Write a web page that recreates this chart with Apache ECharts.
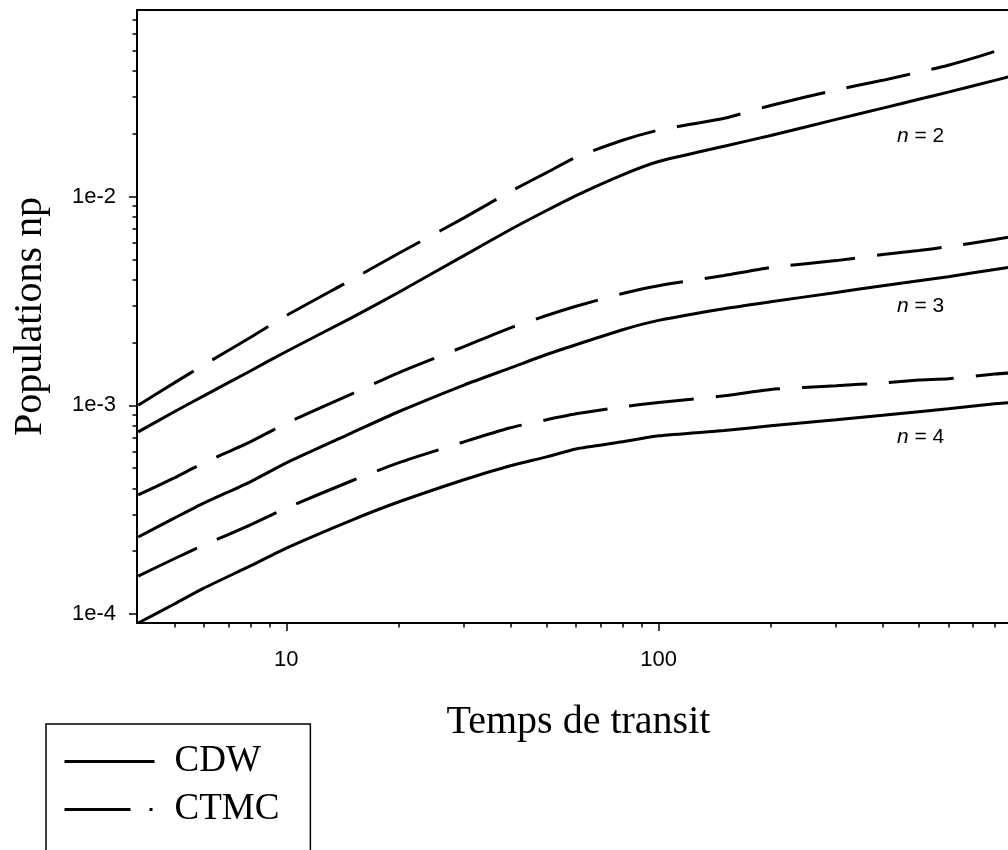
<!DOCTYPE html>
<html>
<head>
<meta charset="utf-8">
<script src="https://cdn.jsdelivr.net/npm/echarts@6.0.0/dist/echarts.min.js"></script>
<style>
  html, body { margin: 0; padding: 0; background: #fff; }
  #chart { width: 1008px; height: 850px; }
</style>
</head>
<body>
<div id="chart"></div>
<script>
// temps de transit
const times = [4, 5, 6, 8, 10, 15, 20, 30, 40, 50, 60, 80, 100, 150, 200, 300, 400, 500, 600, 800, 1000];

// n = 2
const ctmc2 = [1.0e-3, 1.28e-3, 1.56e-3, 2.11e-3, 2.69e-3, 4.0e-3, 5.33e-3, 7.9e-3, 1.057e-2, 1.30e-2, 1.54e-2, 1.86e-2, 2.08e-2, 2.37e-2, 2.73e-2, 3.24e-2, 3.60e-2, 3.94e-2, 4.25e-2, 4.95e-2, 5.80e-2];
const cdw2 = [7.46e-4, 9.31e-4, 1.11e-3, 1.46e-3, 1.81e-3, 2.63e-3, 3.47e-3, 5.21e-3, 6.95e-3, 8.57e-3, 1.01e-2, 1.27e-2, 1.47e-2, 1.74e-2, 1.96e-2, 2.34e-2, 2.65e-2, 2.92e-2, 3.16e-2, 3.60e-2, 3.98e-2];
// n = 3
const ctmc3 = [3.72e-4, 4.49e-4, 5.30e-4, 6.68e-4, 8.2e-4, 1.135e-3, 1.43e-3, 1.91e-3, 2.35e-3, 2.69e-3, 2.98e-3, 3.43e-3, 3.74e-3, 4.18e-3, 4.57e-3, 4.93e-3, 5.27e-3, 5.51e-3, 5.75e-3, 6.22e-3, 6.65e-3];
const cdw3 = [2.34e-4, 2.88e-4, 3.40e-4, 4.30e-4, 5.30e-4, 7.38e-4, 9.31e-4, 1.25e-3, 1.51e-3, 1.75e-3, 1.95e-3, 2.30e-3, 2.55e-3, 2.90e-3, 3.13e-3, 3.47e-3, 3.74e-3, 3.95e-3, 4.13e-3, 4.47e-3, 4.75e-3];
// n = 4
const ctmc4 = [1.52e-4, 1.84e-4, 2.14e-4, 2.67e-4, 3.22e-4, 4.35e-4, 5.30e-4, 6.68e-4, 7.8e-4, 8.52e-4, 9.1e-4, 9.84e-4, 1.03e-3, 1.11e-3, 1.19e-3, 1.24e-3, 1.28e-3, 1.32e-3, 1.34e-3, 1.41e-3, 1.45e-3];
const cdw4 = [9.06e-5, 1.117e-4, 1.33e-4, 1.70e-4, 2.07e-4, 2.82e-4, 3.44e-4, 4.40e-4, 5.13e-4, 5.66e-4, 6.18e-4, 6.68e-4, 7.14e-4, 7.57e-4, 7.98e-4, 8.52e-4, 8.95e-4, 9.31e-4, 9.62e-4, 1.016e-3, 1.05e-3];

// graduations
const xMajor = [10, 100];
const xMinor = [5, 6, 7, 8, 9, 20, 30, 40, 50, 60, 70, 80, 90, 200, 300, 400, 500, 600, 700, 800];
const yMajor = [1e-4, 1e-3, 1e-2];
const yMinor = [2e-4, 3e-4, 4e-4, 5e-4, 6e-4, 7e-4, 8e-4, 9e-4, 2e-3, 3e-3, 4e-3, 5e-3, 6e-3, 7e-3, 8e-3, 9e-3, 2e-2, 3e-2, 4e-2, 5e-2, 6e-2, 7e-2];

const SANS = 'Liberation Sans, Arial, sans-serif';
const SERIF = 'Liberation Serif, Times New Roman, serif';

const zip = ys => times.map((t, i) => [t, ys[i]]);

const solid = { color: '#000', width: 3, type: 'solid' };
const dashed = { color: '#000', width: 3, type: [65, 22] };

const mkSeries = (name, ys, style) => ({
  name: name,
  type: 'line',
  xAxisIndex: 0,
  yAxisIndex: 0,
  symbol: 'none',
  color: '#000',
  smooth: 0.2,
  lineStyle: style,
  data: zip(ys)
});

const xBase = {
  type: 'log',
  logBase: 10,
  min: 3.97,
  max: 868,
  gridIndex: 0,
  splitLine: { show: false }
};
const yBase = {
  type: 'log',
  logBase: 10,
  min: 9.06e-5,
  max: 0.0782,
  gridIndex: 0,
  splitLine: { show: false }
};

const nLabel = (txt, top) => ({
  type: 'text',
  left: 897,
  top: top,
  style: {
    text: '{i|n} = ' + txt,
    font: '21px ' + SANS,
    fill: '#000',
    rich: { i: { fontStyle: 'italic', fontSize: 21, fontFamily: SANS } }
  }
});

const getOptions = () => {
  return {
    animation: false,
    backgroundColor: '#fff',
    grid: { left: 137, top: 10, right: 0, bottom: 227, containLabel: false },
    legend: {
      orient: 'vertical',
      left: 46,
      top: 724,
      height: 300,
      padding: [19, 31, 40, 17],
      borderColor: '#000',
      borderWidth: 1.5,
      itemWidth: 90,
      itemHeight: 4,
      itemGap: 11,
      itemStyle: { opacity: 0 },
      textStyle: { fontFamily: SERIF, fontSize: 37, color: '#000', padding: [0, 0, 0, 15] },
      data: [
        { name: 'CDW', lineStyle: { color: '#000', width: 3, type: 'solid' } },
        { name: 'CTMC', lineStyle: { color: '#000', width: 3, type: [66, 19, 3, 100] } }
      ]
    },
    xAxis: [
      Object.assign({}, xBase, {
        position: 'bottom',
        name: 'Temps de transit',
        nameLocation: 'middle',
        nameGap: 79,
        nameTextStyle: { fontFamily: SERIF, fontSize: 40, color: '#000', padding: [0, 0, 0, 12] },
        axisLine: { show: true, lineStyle: { color: '#000', width: 2 } },
        axisTick: { show: true, inside: false, length: 8, customValues: xMajor, lineStyle: { color: '#000', width: 1.5 } },
        axisLabel: { show: true, customValues: xMajor, margin: 26, fontFamily: SANS, fontSize: 22, color: '#000', formatter: v => String(Math.round(v)) }
      }),
      Object.assign({}, xBase, {
        position: 'bottom',
        axisLine: { show: false },
        axisTick: { show: true, inside: false, length: 4.5, customValues: xMinor, lineStyle: { color: '#000', width: 1.5 } },
        axisLabel: { show: false }
      }),
      Object.assign({}, xBase, {
        position: 'top',
        axisLine: { show: true, lineStyle: { color: '#000', width: 2 } },
        axisTick: { show: false },
        axisLabel: { show: false }
      })
    ],
    yAxis: [
      Object.assign({}, yBase, {
        position: 'left',
        name: 'Populations np',
        nameLocation: 'middle',
        nameGap: 87,
        nameTextStyle: { fontFamily: SERIF, fontSize: 40, color: '#000' },
        axisLine: { show: true, lineStyle: { color: '#000', width: 2 } },
        axisTick: { show: true, inside: false, length: 8, customValues: yMajor, lineStyle: { color: '#000', width: 1.5 } },
        axisLabel: { show: true, customValues: yMajor, margin: 21, fontFamily: SANS, fontSize: 22, color: '#000', formatter: v => v.toExponential(0) }
      }),
      Object.assign({}, yBase, {
        position: 'left',
        axisLine: { show: false },
        axisTick: { show: true, inside: false, length: 4.5, customValues: yMinor, lineStyle: { color: '#000', width: 1.5 } },
        axisLabel: { show: false }
      })
    ],
    graphic: [nLabel('2', 126), nLabel('3', 296), nLabel('4', 427)],
    series: [
      mkSeries('CDW', cdw2, solid),
      mkSeries('CTMC', ctmc2, dashed),
      mkSeries('CDW', cdw3, solid),
      mkSeries('CTMC', ctmc3, dashed),
      mkSeries('CDW', cdw4, solid),
      mkSeries('CTMC', ctmc4, dashed)
    ]
  };
};

var myChart = echarts.init(document.getElementById('chart'), null, { renderer: 'canvas' });
myChart.setOption(getOptions(), true);
</script>
</body>
</html>
